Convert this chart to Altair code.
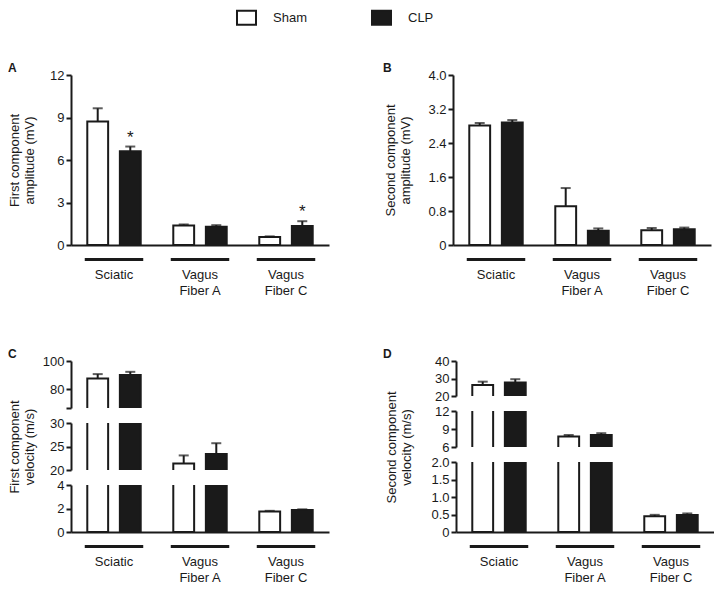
import altair as alt
import pandas as pd

FONT = "Liberation Sans"
INK = "#1a1a1a"

categories = ["Sciatic", "Vagus Fiber A", "Vagus Fiber C"]
groups = ["Sham", "CLP"]

# Panel A: first component amplitude (mV)
amp1_sham = [8.72, 1.38, 0.56]
amp1_sham_sem = [0.93, 0.07, 0.05]
amp1_clp = [6.62, 1.29, 1.34]
amp1_clp_sem = [0.33, 0.11, 0.34]
amp1_clp_star = ["*", "", "*"]

# Panel B: second component amplitude (mV)
amp2_sham = [2.81, 0.91, 0.35]
amp2_sham_sem = [0.06, 0.43, 0.05]
amp2_clp = [2.88, 0.335, 0.37]
amp2_clp_sem = [0.06, 0.055, 0.04]

# Panel C: first component velocity (m/s)
vel1_sham = [87.8, 21.4, 1.75]
vel1_sham_sem = [3.0, 1.7, 0.05]
vel1_clp = [90.1, 23.4, 1.88]
vel1_clp_sem = [2.3, 2.3, 0.05]

# Panel D: second component velocity (m/s)
vel2_sham = [26.3, 7.74, 0.45]
vel2_sham_sem = [1.9, 0.26, 0.04]
vel2_clp = [27.65, 8.0, 0.485]
vel2_clp_sem = [1.95, 0.3, 0.045]

# axis tick values (broken axes in C and D)
a_ticks = [0, 3, 6, 9, 12]
b_ticks = [0, 0.8, 1.6, 2.4, 3.2, 4.0]
c_top_ticks = [67, 80, 100]
c_top_labels = [80, 100]
c_mid_ticks = [20, 25, 30]
c_bot_ticks = [0, 2, 4]
d_top_ticks = [20, 30, 40]
d_mid_ticks = [6, 9, 12]
d_bot_ticks = [0, 0.5, 1.0, 1.5, 2.0]

W = 258


def table(sham, sham_sem, clp, clp_sem, stars=None):
    rows = []
    for i, c in enumerate(categories):
        rows.append({"cat": c, "grp": "Sham", "val": sham[i],
                     "top": sham[i] + sham_sem[i], "star": ""})
        rows.append({"cat": c, "grp": "CLP", "val": clp[i],
                     "top": clp[i] + clp_sem[i],
                     "star": stars[i] if stars else ""})
    return pd.DataFrame(rows)


LEGEND = alt.Legend(title=None, orient="none", legendX=166, legendY=-67,
                    direction="horizontal",
                    symbolType="M-1.15,-0.85L1.15,-0.85L1.15,0.85L-1.15,0.85Z",
                    symbolSize=273,
                    symbolStrokeColor=INK, symbolStrokeWidth=2, labelFont=FONT,
                    labelFontSize=13, labelColor=INK, labelOffset=17,
                    columnPadding=60, padding=0)


def x_enc(bottom):
    if bottom:
        ax = alt.Axis(title=None, ticks=False, labelPadding=23, labelAngle=0,
                      labelLineHeight=16, domainWidth=2, domainColor=INK,
                      labelExpr="datum.label == 'Sciatic' ? 'Sciatic' : ['Vagus', substring(datum.label, 6)]")
    else:
        ax = None
    return alt.X("cat:N", sort=categories,
                 scale=alt.Scale(paddingInner=0, paddingOuter=0), axis=ax)


def panel(df, lo, hi, ticks, labeled, decimals, h, bottom, ytitle=None,
          tpad=10, title_y=None, letter=None, letter_dx=0, stars=False):
    lab_js = "[" + ",".join(str(v) for v in labeled) + "]"
    if decimals:
        fmt = "datum.value == 0 ? '0' : format(datum.value, '.1f')"
    else:
        fmt = "format(datum.value, 'd')"
    kw = {}
    if title_y is not None:
        kw["titleY"] = title_y
    yaxis = alt.Axis(values=ticks, title=ytitle, titlePadding=tpad,
                     labelExpr=f"indexof({lab_js}, datum.value) >= 0 ? ({fmt}) : ''",
                     **kw)
    X = x_enc(bottom)
    XO = alt.XOffset("grp:N", sort=groups,
                     scale=alt.Scale(domain=groups, paddingInner=0.36, paddingOuter=0.5))

    def Y(f):
        return alt.Y(f"{f}:Q", scale=alt.Scale(domain=[lo, hi], nice=False, zero=False),
                     axis=yaxis)

    base = alt.Chart(df).encode(x=X, xOffset=XO)
    bars = base.mark_bar(clip=True, stroke=INK, strokeWidth=2).encode(
        y=Y("val"),
        fill=alt.Fill("grp:N", sort=groups,
                      scale=alt.Scale(domain=groups, range=["#ffffff", INK]),
                      legend=LEGEND))
    err = base.mark_rule(clip=True, color=INK, strokeWidth=2).encode(
        y=Y("val"), y2="top:Q")
    cap = base.mark_tick(clip=True, color=INK, thickness=2, size=10).encode(y=Y("top"))
    layers = [bars, err, cap]
    if stars:
        layers.append(base.mark_text(fontSize=17, font=FONT, dy=-4,
                                     baseline="alphabetic", color=INK).encode(
            y=Y("top"), text="star:N"))
    if bottom:
        ul = alt.Chart(pd.DataFrame({"cat": categories})).mark_bar(
            width=alt.RelativeBandSize(0.68), color=INK).encode(
            x=X, y=alt.value(h + 13), y2=alt.value(h + 16))
        layers.append(ul)
    ch = alt.layer(*layers).properties(width=W, height=h)
    if letter:
        ch = ch.properties(title=alt.TitleParams(letter, anchor="start", frame="group",
                                                 dx=letter_dx, offset=-6))
    return ch


dfA = table(amp1_sham, amp1_sham_sem, amp1_clp, amp1_clp_sem, amp1_clp_star)
dfB = table(amp2_sham, amp2_sham_sem, amp2_clp, amp2_clp_sem)
dfC = table(vel1_sham, vel1_sham_sem, vel1_clp, vel1_clp_sem)
dfD = table(vel2_sham, vel2_sham_sem, vel2_clp, vel2_clp_sem)

A = panel(dfA, 0, 12, a_ticks, a_ticks, False, 170, True,
          ["First component", "amplitude (mV)"], tpad=13, letter="A",
          letter_dx=-63, stars=True)
B = panel(dfB, 0, 4, b_ticks, b_ticks, True, 170, True,
          ["Second component", "amplitude (mV)"], tpad=15, letter="B",
          letter_dx=-70)

C = alt.vconcat(
    panel(dfC, 67, 100, c_top_ticks, c_top_labels, False, 47, False,
          letter="C", letter_dx=-63),
    panel(dfC, 20, 30, c_mid_ticks, c_mid_ticks, False, 47, False,
          ytitle=["First component", "velocity (m/s)"], tpad=13),
    panel(dfC, 0, 4, c_bot_ticks, c_bot_ticks, False, 47, True),
    spacing=15, bounds="flush")

D = alt.vconcat(
    panel(dfD, 20, 40, d_top_ticks, d_top_ticks, False, 35, False,
          letter="D", letter_dx=-73),
    panel(dfD, 6, 12, d_mid_ticks, d_mid_ticks, False, 36, False,
          ytitle=["Second component", "velocity (m/s)"], tpad=21, title_y=36),
    panel(dfD, 0, 2, d_bot_ticks, d_bot_ticks, True, 70, True),
    spacing=15, bounds="flush")

row1 = alt.hconcat(A, B, spacing=54)
row2 = alt.hconcat(C, D, spacing=54)

chart = alt.vconcat(row1, row2, spacing=51).properties(
    padding={"left": 0, "top": 0, "right": 0, "bottom": 0}
).configure_view(strokeWidth=0).configure_axis(
    labelFont=FONT, titleFont=FONT, labelFontSize=13, titleFontSize=13,
    titleFontWeight="normal", labelColor=INK, titleColor=INK,
    domainColor=INK, domainWidth=2, tickColor=INK, tickWidth=2, tickSize=5,
    labelPadding=2, grid=False, titleLineHeight=15
).configure_title(font=FONT, fontSize=12, fontWeight="bold", color=INK)

chart.save("out.html", embed_options={"renderer": "svg", "actions": False})
